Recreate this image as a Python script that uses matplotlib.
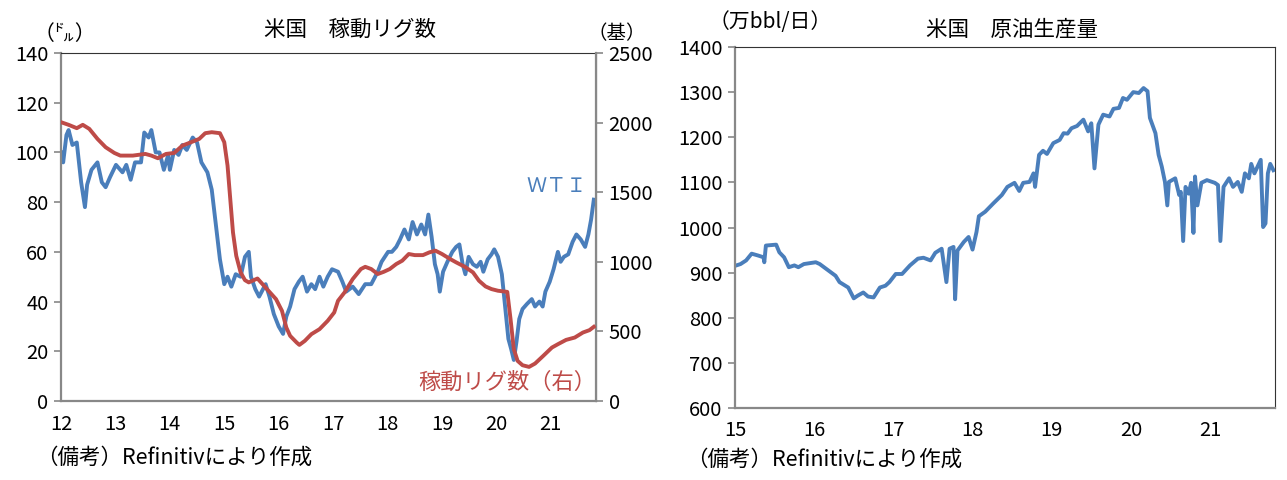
import numpy as np
import matplotlib
matplotlib.use("Agg")
import matplotlib.pyplot as plt

plt.rcParams['font.family'] = ['Noto Sans CJK JP', 'DejaVu Sans']

# ---------------------------------------------------------------------
# DATA
# ---------------------------------------------------------------------
# WTI price (dollars), x as year fraction (12 = 2012)
wti_x = [12.00, 12.04, 12.10, 12.14, 12.21, 12.29, 12.37, 12.44, 12.48, 12.56,
         12.67, 12.75, 12.82, 12.90, 13.01, 13.13, 13.20, 13.28, 13.36, 13.47,
         13.53, 13.61, 13.66, 13.74, 13.81, 13.89, 13.97, 14.00, 14.08, 14.16,
         14.23, 14.31, 14.42, 14.50, 14.58, 14.69, 14.77, 14.84, 14.92, 15.00,
         15.06, 15.13, 15.21, 15.30, 15.38, 15.45, 15.49, 15.57, 15.64, 15.76,
         15.83, 15.91, 16.00, 16.08, 16.14, 16.21, 16.29, 16.37, 16.44, 16.52,
         16.60, 16.67, 16.75, 16.82, 16.90, 16.98, 17.09, 17.17, 17.24, 17.36,
         17.47, 17.59, 17.70, 17.82, 17.89, 18.01, 18.08, 18.16, 18.23, 18.31,
         18.39, 18.46, 18.54, 18.62, 18.69, 18.75, 18.81, 18.87, 18.92, 18.96,
         19.02, 19.10, 19.19, 19.26, 19.32, 19.38, 19.43, 19.49, 19.57, 19.64,
         19.71, 19.76, 19.84, 19.91, 19.96, 20.03, 20.10, 20.16, 20.22, 20.27,
         20.32, 20.37, 20.42, 20.48, 20.56, 20.65, 20.71, 20.79, 20.85, 20.90,
         20.98, 21.05, 21.13, 21.18, 21.24, 21.32, 21.40, 21.47, 21.55, 21.63,
         21.69, 21.74, 21.79]
wti = [100, 96, 107, 109, 103, 104, 88, 78, 87, 93,
       96, 88, 86, 90, 95, 92, 95, 89, 96, 96,
       108, 106, 109, 100, 100, 93, 99, 93, 101, 99,
       103, 101, 106, 104, 96, 92, 85, 72, 57, 47,
       50, 46, 51, 50, 58, 60, 50, 45, 42, 47,
       42, 35, 30, 27, 34, 38, 45, 48, 50, 44,
       47, 45, 50, 46, 50, 53, 52, 48, 44, 46,
       43, 47, 47, 52, 56, 60, 60, 62, 65, 69,
       65, 72, 67, 71, 67, 75, 66, 55, 51, 44,
       52, 56, 60, 62, 63, 55, 51, 58, 55, 54,
       56, 52, 57, 59, 61, 58, 51, 38, 25, 21,
       16.5, 24, 33, 37, 39, 41, 38, 40, 38, 44,
       48, 53, 60, 56, 58, 59, 64, 67, 65, 62,
       67, 73, 81]

# US rig count (right axis)
rig_x = [12.00, 12.14, 12.29, 12.40, 12.52, 12.67, 12.82, 12.98, 13.09, 13.32,
         13.55, 13.66, 13.78, 13.93, 14.08, 14.23, 14.39, 14.54, 14.65, 14.77,
         14.92, 15.00, 15.06, 15.11, 15.16, 15.22, 15.30, 15.38, 15.45, 15.61,
         15.72, 15.83, 15.95, 16.06, 16.14, 16.21, 16.33, 16.38, 16.48, 16.60,
         16.75, 16.90, 17.02, 17.09, 17.21, 17.36, 17.51, 17.59, 17.70, 17.82,
         17.93, 18.04, 18.16, 18.27, 18.39, 18.50, 18.65, 18.77, 18.88, 19.00,
         19.15, 19.26, 19.42, 19.57, 19.68, 19.80, 19.91, 20.03, 20.20, 20.26,
         20.32, 20.39, 20.48, 20.60, 20.71, 20.86, 21.02, 21.13, 21.28, 21.44,
         21.59, 21.71, 21.79]
rigs = [2003, 1984, 1960, 1984, 1955, 1883, 1823, 1782, 1763, 1763,
        1775, 1763, 1744, 1775, 1782, 1835, 1859, 1883, 1924, 1931,
        1924, 1859, 1691, 1451, 1211, 1043, 924, 868, 852, 880,
        832, 784, 732, 648, 528, 468, 420, 403, 432, 480,
        516, 576, 636, 720, 780, 876, 948, 964, 948, 912,
        928, 948, 984, 1008, 1056, 1048, 1048, 1068, 1080, 1056,
        1020, 996, 964, 924, 864, 823, 804, 792, 784, 588,
        372, 288, 257, 245, 269, 324, 384, 408, 439, 456,
        492, 509, 533]

# US crude oil production (10k bbl/day), x as year fraction (15 = 2015)
prod_x = [15.00, 15.07, 15.14, 15.21, 15.29, 15.36, 15.37, 15.39, 15.52, 15.56,
          15.62, 15.68, 15.75, 15.80, 15.87, 16.02, 16.07, 16.17, 16.27, 16.32,
          16.43, 16.50, 16.55, 16.62, 16.68, 16.75, 16.83, 16.90, 16.95, 17.03,
          17.11, 17.21, 17.31, 17.38, 17.47, 17.53, 17.61, 17.67, 17.71, 17.76,
          17.78, 17.81, 17.89, 17.95, 18.00, 18.05, 18.08, 18.16, 18.26, 18.37,
          18.44, 18.53, 18.59, 18.64, 18.72, 18.77, 18.79, 18.84, 18.89, 18.94,
          19.02, 19.10, 19.15, 19.20, 19.25, 19.32, 19.40, 19.46, 19.50, 19.54,
          19.59, 19.65, 19.73, 19.78, 19.85, 19.90, 19.95, 20.03, 20.10, 20.16,
          20.21, 20.24, 20.31, 20.35, 20.39, 20.43, 20.46, 20.48, 20.56, 20.61,
          20.63, 20.66, 20.69, 20.73, 20.76, 20.79, 20.81, 20.84, 20.89, 20.96,
          21.06, 21.10, 21.13, 21.17, 21.24, 21.29, 21.35, 21.40, 21.44, 21.49,
          21.52, 21.56, 21.64, 21.67, 21.70, 21.73, 21.76, 21.80]
prod = [915, 919, 927, 942, 938, 934, 923, 960, 962, 945,
        934, 912, 916, 912, 919, 923, 919, 906, 893, 879,
        867, 843, 849, 856, 847, 845, 867, 871, 879, 897,
        897, 916, 931, 933, 927, 944, 953, 879, 953, 957,
        841, 949, 968, 979, 951, 990, 1025, 1035, 1053, 1072,
        1090, 1099, 1081, 1099, 1101, 1120, 1090, 1161, 1170, 1163,
        1187, 1194, 1209, 1208, 1220, 1225, 1239, 1213, 1231, 1131,
        1228, 1250, 1246, 1263, 1265, 1287, 1283, 1300, 1298, 1309,
        1302, 1243, 1209, 1161, 1135, 1101, 1049, 1101, 1109, 1072,
        1079, 970, 1090, 1075, 1099, 988, 1113, 1049, 1099, 1105,
        1099, 1094, 970, 1090, 1109, 1090, 1101, 1079, 1120, 1109,
        1141, 1120, 1150, 1001, 1009, 1120, 1141, 1127]

left_years = [12, 13, 14, 15, 16, 17, 18, 19, 20, 21]
right_years = [15, 16, 17, 18, 19, 20, 21]

BLUE = '#4A7EBB'
RED = '#BE4B48'
GRAY = '#888888'
TICK_FS = 14.5

W, H = 1287, 480
fig = plt.figure(figsize=(W / 100, H / 100), dpi=100)


def style_axes(ax):
    for side in ('left', 'bottom'):
        ax.spines[side].set_color(GRAY)
        ax.spines[side].set_linewidth(1.6)
    ax.spines['top'].set_color('#333333')
    ax.spines['top'].set_linewidth(0.8)
    ax.spines['right'].set_color('#333333')
    ax.spines['right'].set_linewidth(0.8)
    ax.tick_params(axis='y', direction='out', length=5, width=1.2, color=GRAY,
                   labelsize=TICK_FS, pad=4)
    ax.tick_params(axis='x', length=0, labelsize=TICK_FS, pad=9)


# ---------------------------------------------------------------------
# Left chart: WTI and rig count
# ---------------------------------------------------------------------
ax1 = fig.add_axes([61 / W, 1 - 401 / H, (596 - 61) / W, (401 - 53) / H])
ax1.plot(wti_x, wti, color=BLUE, lw=2.8, zorder=2)
ax1.set_ylim(0, 140)
ax1.set_yticks(range(0, 141, 20))
ax1.set_xlim(12, 21.83)
ax1.set_xticks(left_years)
ax1.set_xticklabels([str(y) for y in left_years])
style_axes(ax1)

ax2 = ax1.twinx()
ax2.plot(rig_x, rigs, color=RED, lw=2.8, zorder=3)
ax2.set_ylim(0, 2500)
ax2.set_yticks(range(0, 2501, 500))
ax2.spines['right'].set_color(GRAY)
ax2.spines['right'].set_linewidth(1.6)
ax2.spines['top'].set_visible(False)
ax2.spines['left'].set_visible(False)
ax2.spines['bottom'].set_visible(False)
ax2.tick_params(axis='y', direction='out', length=5, width=1.2, color=GRAY,
                labelsize=TICK_FS, pad=4)

fig.text(350 / W, 1 - 30 / H, '米国　稼動リグ数', ha='center', va='center', fontsize=15.5)
fig.text(65 / W, 1 - 34 / H, '（㌦）', ha='center', va='center', fontsize=15)
fig.text(617 / W, 1 - 34 / H, '（基）', ha='center', va='center', fontsize=14)
fig.text(557 / W, 1 - 187 / H, 'ＷＴＩ', ha='center', va='center', fontsize=14.5, color=BLUE)
fig.text(507 / W, 1 - 382 / H, '稼動リグ数（右）', ha='center', va='center', fontsize=16, color=RED)
fig.text(36 / W, 1 - 458 / H, '（備考）Refinitivにより作成', ha='left', va='center', fontsize=15.5)

# ---------------------------------------------------------------------
# Right chart: crude oil production
# ---------------------------------------------------------------------
ax3 = fig.add_axes([735 / W, 1 - 408 / H, (1275 - 735) / W, (408 - 47) / H])
ax3.plot(prod_x, prod, color=BLUE, lw=2.8)
ax3.set_ylim(600, 1400)
ax3.set_yticks(range(600, 1401, 100))
ax3.set_xlim(15, 21.82)
ax3.set_xticks(right_years)
ax3.set_xticklabels([str(y) for y in right_years])
style_axes(ax3)

fig.text(1012 / W, 1 - 30 / H, '米国　原油生産量', ha='center', va='center', fontsize=15.5)
fig.text(770 / W, 1 - 22 / H, '（万bbl/日）', ha='center', va='center', fontsize=15)
fig.text(686 / W, 1 - 460 / H, '（備考）Refinitivにより作成', ha='left', va='center', fontsize=15.5)

fig.savefig('out.png', dpi=100)
